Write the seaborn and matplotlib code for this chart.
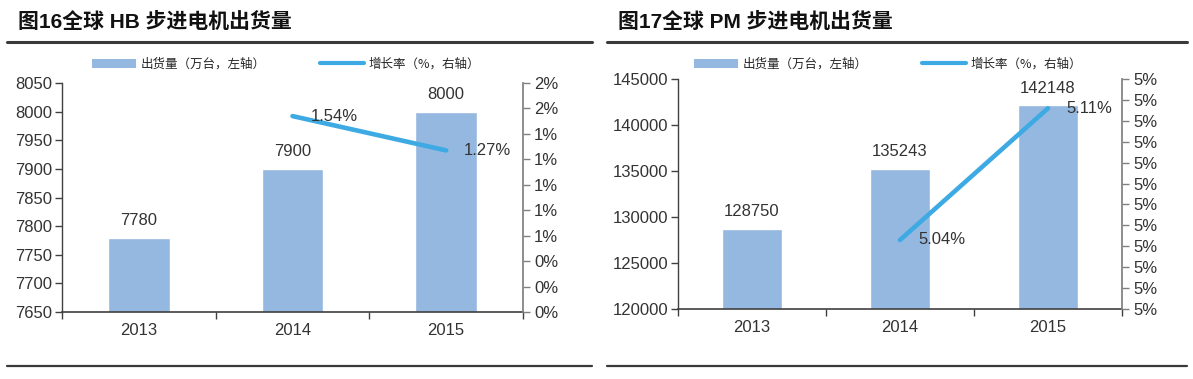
import numpy as np
import pandas as pd
import matplotlib
matplotlib.use("Agg")
import matplotlib.pyplot as plt
from matplotlib.lines import Line2D
from matplotlib.patches import Patch
import seaborn as sns

sns.set_theme(style="white")
plt.rcParams["font.family"] = ["Liberation Sans", "Noto Sans CJK SC", "DejaVu Sans"]

# ------------------------------------------------------------
# data
# ------------------------------------------------------------
years = ["2013", "2014", "2015"]

hb_units = [7780, 7900, 8000]          # 万台
hb_growth = [np.nan, 1.54, 1.27]       # %

pm_units = [128750, 135243, 142148]    # 万台
pm_growth = [np.nan, 5.043, 5.106]     # %

titles = ["图16全球 HB 步进电机出货量", "图17全球 PM 步进电机出货量"]
bar_label = "出货量（万台，左轴）"
line_label = "增长率（%，右轴）"

BAR_C = "#95B8E0"
LINE_C = "#3DAAE3"
TXT_C = "#333333"
FS = 12
W, H = 1193, 379

fig = plt.figure(figsize=(W / 100, H / 100), dpi=100)


def fx(px):
    return px / W


def fy(py):
    return 1 - py / H


def panel(x0, x1, ytop, ybot, units, growth, ylim, yticks, glim, gticks, title, tx, line_x, leg_x):
    ax = fig.add_axes([fx(x0), fy(ybot), fx(x1 - x0), fy(ytop) - fy(ybot)])
    sns.barplot(x=years, y=units, ax=ax, color=BAR_C, saturation=1, width=0.4)
    ax.set_xlim(-0.5, len(years) - 0.5)
    ax.set_ylim(*ylim)
    ax.set_yticks(yticks)
    ax.set_yticklabels([f"{v:.0f}" for v in yticks])
    ax.bar_label(ax.containers[0], fmt="%.0f", padding=7, fontsize=FS, color=TXT_C)

    # category boundary ticks, excel style
    ax.set_xticks(np.arange(-0.5, len(years)), minor=True)
    ax.tick_params(axis="x", which="major", length=0, pad=8, labelsize=FS, labelcolor=TXT_C)
    ax.tick_params(axis="x", which="minor", length=5, width=1, color="#404040", direction="out", bottom=True)
    ax.tick_params(axis="y", length=5, width=1, color="#404040", direction="out", left=True,
                   labelsize=FS, labelcolor=TXT_C, pad=2)
    ax.set_xlabel(""); ax.set_ylabel("")
    for s in ["top", "right"]:
        ax.spines[s].set_visible(False)
    ax.spines["left"].set_color("#404040")
    ax.spines["bottom"].set_color("#404040")
    ax.spines["left"].set_linewidth(1)
    ax.spines["bottom"].set_linewidth(1.2)

    ax2 = ax.twinx()
    gdf = pd.DataFrame({"pos": np.arange(len(years)), "growth": growth}).dropna()
    sns.lineplot(data=gdf, x="pos", y="growth", ax=ax2, color=LINE_C, lw=3.3,
                 solid_capstyle="round")
    for p, g in zip(gdf["pos"], gdf["growth"]):
        ax2.annotate(f"{g:.2f}%", (p, g), xytext=(13, 0), textcoords="offset points",
                     ha="left", va="center", fontsize=FS, color=TXT_C)
    ax2.set_ylim(*glim)
    ax2.set_yticks(gticks)
    ax2.set_yticklabels([f"{v:.0f}%" for v in gticks])
    ax2.tick_params(axis="y", length=5, width=1, color="#808080", direction="out", right=True,
                    labelsize=FS, labelcolor=TXT_C, pad=3)
    ax2.set_ylabel("")
    for s in ["top", "left", "bottom"]:
        ax2.spines[s].set_visible(False)
    ax2.spines["right"].set_color("#808080")
    ax2.set_xlim(-0.5, len(years) - 0.5)

    handles = [Patch(facecolor=BAR_C, edgecolor="none"), Line2D([], [], color=LINE_C, lw=3)]
    ax.legend(handles, [bar_label, line_label], ncol=2, frameon=False, loc="center left",
              bbox_to_anchor=(fx(leg_x), fy(64)), bbox_transform=fig.transFigure,
              borderpad=0, handlelength=3.5, handletextpad=0.35, columnspacing=4.4,
              prop={"family": ["Noto Sans CJK SC"], "size": 9})

    fig.text(fx(tx), fy(22), title, fontsize=15, fontweight="bold", color="#111111",
             ha="left", va="center", family=["Liberation Sans", "Noto Sans CJK SC"])
    for yy, lw in [(42, 2.2), (366, 1.6)]:
        fig.add_artist(Line2D([fx(line_x[0]), fx(line_x[1])], [fy(yy), fy(yy)],
                              color="#3a3a3a", lw=lw))
    return ax, ax2


panel(62, 523, 83, 312, hb_units, hb_growth,
      (7650, 8050), np.arange(7650, 8051, 50),
      (0, 1.8), np.linspace(0, 1.8, 10),
      titles[0], 18, (7, 592), 86)

panel(678, 1122, 79, 309, pm_units, pm_growth,
      (120000, 145000), np.arange(120000, 145001, 5000),
      (5.01, 5.12), np.linspace(5.01, 5.12, 12),
      titles[1], 618, (607, 1187), 688)

fig.savefig("out.png", dpi=100, facecolor="white")
